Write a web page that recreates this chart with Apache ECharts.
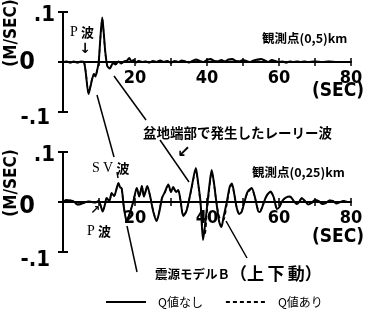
<!DOCTYPE html>
<html><head><meta charset="utf-8">
<script src="https://cdn.jsdelivr.net/npm/echarts@6/dist/echarts.min.js"></script>
<style>html,body{margin:0;padding:0;background:#fff}#c{width:370px;height:312px}</style>
</head><body><div id="c"></div>
<script>
// ---- data (seconds, m/sec) ----
const topTime = [0,1,2,3,4,5,5.8,6.3,7.1,7.6,8.1,8.6,9.0,9.5,9.9,10.4,10.9,11.3,11.75,12.3,13.0,13.9,14.6,15.4,16.2,17,17.8,18.4,19,19.6,20.3,21,22,23,24,25,26,27,28,29,30,31,32,33,34,35,36,37,38,39,40,41,42,43,44,45,46,47,48,49,50,51,52,53,54,55,56,57,58,59,60,61,62,63,64,65,66,67,68,70,72,74,76,78,80];
const topNoQ = [0,0.001,-0.001,0.001,-0.001,0.001,0,-0.02,-0.064,-0.05,-0.034,-0.024,-0.029,-0.016,-0.002,0.05,0.089,0.06,0.02,-0.008,-0.013,-0.002,-0.005,0.001,-0.003,0.001,0.003,0.008,0.001,0.004,-0.001,0.002,0,0.001,-0.001,0.002,0,0.003,0,0.002,-0.001,0.002,0,0.003,0.001,-0.001,0.002,0.005,0.002,0,0.004,0.006,0.002,0.001,0.004,0.001,0.005,0.006,0.002,0.001,0.004,0.002,0,0.003,0.005,0.006,0.003,0,0.004,0.002,0,0.001,-0.001,0.001,0,0.001,0,0.001,0,0.001,0,0.001,0,0,0];
const topQ   = [0,0.001,-0.001,0.001,-0.001,0.001,0,-0.019,-0.061,-0.049,-0.033,-0.024,-0.028,-0.016,-0.002,0.048,0.086,0.058,0.019,-0.008,-0.012,-0.002,-0.004,0.001,-0.002,0.001,0.003,0.007,0.001,0.003,-0.001,0.002,0,0.001,-0.001,0.002,0,0.002,0,0.002,-0.001,0.002,0,0.002,0.001,-0.001,0.002,0.004,0.002,0,0.003,0.005,0.002,0.001,0.003,0.001,0.004,0.005,0.002,0.001,0.003,0.002,0,0.003,0.004,0.005,0.003,0,0.003,0.002,0,0.001,-0.001,0.001,0,0.001,0,0.001,0,0.001,0,0.001,0,0,0];

const botTime = [0,1,2,3,4,5,6,7,8,9,9.9,10.5,11.0,11.7,12.1,12.9,13.5,14.2,15.4,15.8,16.3,16.9,17.7,18.3,19.5,20.5,21.2,21.9,22.5,23.4,24.25,25.1,26.0,26.8,27.5,28.3,29.25,30.0,30.6,31.4,32.0,32.6,33.4,34.2,34.9,35.75,36.9,37.5,38.2,38.9,39.4,40.0,40.7,41.3,41.9,42.6,43.4,44.0,44.6,45.5,46.3,46.9,47.6,48.2,48.9,49.6,50.4,51.25,52.4,53.3,54.2,54.7,55.6,56.5,57.7,58.6,59.4,60.1,60.9,61.9,63.1,63.9,64.9,65.6,66.3,67.2,68.1,69.0,70.0,71,72,73,74,75,76,77,78,79,80];
const botNoQ = [0,0.004,0.003,0.001,-0.005,-0.004,-0.001,0.001,0,-0.001,0.002,-0.008,-0.019,-0.004,0.008,0.002,0.018,0.012,0.038,0.03,0.027,-0.01,-0.039,-0.028,0,0.028,0.011,0.032,0.011,0.032,0.01,-0.02,-0.038,-0.018,0.008,0.02,0.035,0.02,0.03,0.02,0.024,0.005,-0.028,-0.02,0,0.03,0.068,0.04,0,-0.076,-0.05,-0.01,0.035,0.064,0.04,0,-0.04,-0.05,-0.03,0,0.03,0.037,0.015,-0.01,-0.024,-0.02,0,0.02,0.028,0.01,-0.018,-0.02,-0.005,0.012,0.021,0.008,-0.014,-0.01,0.002,0.009,0.011,0.004,-0.004,0,0.008,0.002,-0.005,-0.002,0.004,0.002,-0.004,-0.002,0.003,0.002,-0.003,0,0.002,0,0];
const botQ   = [0,0.004,0.003,0.001,-0.005,-0.004,-0.001,0.001,0,-0.001,0.002,-0.008,-0.018,-0.004,0.008,0.002,0.017,0.012,0.037,0.03,0.026,-0.01,-0.037,-0.027,0,0.027,0.011,0.031,0.011,0.031,0.01,-0.019,-0.036,-0.017,0.008,0.019,0.033,0.02,0.029,0.02,0.023,0.005,-0.026,-0.019,0,0.028,0.064,0.038,-0.005,-0.062,-0.064,-0.02,0.03,0.06,0.038,0,-0.03,-0.034,-0.036,-0.005,0.027,0.034,0.014,-0.009,-0.022,-0.019,0,0.018,0.026,0.009,-0.016,-0.018,-0.005,0.011,0.019,0.007,-0.012,-0.009,0.002,0.008,0.01,0.004,-0.004,0,0.007,0.002,-0.004,-0.002,0.003,0.002,-0.003,-0.002,0.003,0.002,-0.002,0,0.002,0,0];

const xLabelValues = [20, 40, 60, 80];
const yTickLabels = ['.1', '0', '-.1'];
const seriesNames = ['Q値なし', 'Q値あり'];

// ---- chart ----
const chart = echarts.init(document.getElementById('c'), null, {renderer: 'canvas'});
const NUM_FONT = 'DejaVu Sans Condensed';
const JP = 'Noto Sans CJK JP';
const GRID_H = 100;

function pairs(t, v) { return t.map((x, i) => [x, v[i]]); }

// main axes (g = 0,1) and overlay axes (g = 2,3) that only add inward ticks.
// The time axis is moved up by half the grid height so it sits on the zero line.
function xAxis(g, overlay) {
  return {
    gridIndex: g, type: 'value', min: 0, max: 80, interval: 10, position: 'bottom',
    offset: -GRID_H / 2,
    splitLine: {show: false},
    axisLine: {show: !overlay, onZero: false, lineStyle: {color: '#000', width: 2}},
    axisTick: {show: true, inside: !!overlay, length: 4, lineStyle: {color: '#000', width: 1.5}},
    axisLabel: overlay ? {show: false} : {
      show: true, margin: 7, color: '#000', fontSize: 18, fontFamily: NUM_FONT, fontWeight: 'bold',
      formatter: v => xLabelValues.indexOf(v) >= 0 ? String(v) : ''
    }
  };
}
function yAxis(g, overlay, lower) {
  return {
    gridIndex: g, type: 'value', min: -0.1, max: 0.1, interval: 0.1, position: 'left',
    splitLine: {show: false},
    axisLine: {show: !overlay, onZero: false, lineStyle: {color: '#000', width: 2}},
    axisTick: {show: true, inside: !!overlay, length: 5, lineStyle: {color: '#000', width: 2}},
    axisLabel: overlay ? {show: false} : {
      show: true, margin: 8, color: '#000',
      formatter: v => v > 0.05 ? '{a|' + yTickLabels[0] + '}' : (v < -0.05 ? '{c|' + yTickLabels[2] + '}' : '{b|' + yTickLabels[1] + '}'),
      rich: {
        a: {fontSize: 22, fontFamily: NUM_FONT, fontWeight: 'bold', color: '#000', padding: [6, 0, 0, 0]},
        b: {fontSize: 25, fontFamily: NUM_FONT, fontWeight: 'bold', color: '#000', padding: [lower ? 8 : 0, 20, 0, 0]},
        c: {fontSize: 22, fontFamily: NUM_FONT, fontWeight: 'bold', color: '#000', padding: [lower ? 16 : 12, 5, 0, 0]}
      }
    }
  };
}

function lineSeries(name, gi, data, dashed) {
  return {
    name: name, type: 'line', xAxisIndex: gi, yAxisIndex: gi, data: data,
    symbol: 'none', smooth: 0.25, animation: false, z: dashed ? 2 : 3,
    itemStyle: {color: '#000'},
    lineStyle: dashed ? {color: '#000', width: 1.5, type: [4, 3]} : {color: '#000', width: 2}
  };
}

function txt(x, y, text, font, extra) {
  return {type: 'text', x: x, y: y, silent: true,
    style: Object.assign({text: text, font: font, fill: '#000', align: 'left', verticalAlign: 'middle'}, extra || {})};
}
function seg(x1, y1, x2, y2, w) {
  return {type: 'line', silent: true, shape: {x1: x1, y1: y1, x2: x2, y2: y2}, style: {stroke: '#000', lineWidth: w || 1.5}};
}
const richP = {
  s: {fontFamily: 'Liberation Serif', fontSize: 14, fill: '#000'},
  j: {fontFamily: JP, fontSize: 13, fontWeight: 'bold', fill: '#000'}
};

const g0 = {left: 63, top: 12, width: 288, height: GRID_H};
const g1 = {left: 63, top: 152, width: 288, height: GRID_H};

const option = {
  animation: false,
  backgroundColor: '#fff',
  color: ['#000', '#000'],
  grid: [g0, g1, Object.assign({}, g0), Object.assign({}, g1)],
  xAxis: [xAxis(0, false), xAxis(1, false), xAxis(2, true), xAxis(3, true)],
  yAxis: [yAxis(0, false, false), yAxis(1, false, true), yAxis(2, true, false), yAxis(3, true, true)],
  legend: {
    left: 105, top: 296, padding: 0, itemWidth: 40, itemHeight: 10, itemGap: 22,
    data: seriesNames,
    itemStyle: {opacity: 0},
    textStyle: {fontSize: 12, fontFamily: JP, color: '#000', padding: [0, 0, 0, 7]}
  },
  series: [
    lineSeries(seriesNames[1], 0, pairs(topTime, topQ), true),
    lineSeries(seriesNames[0], 0, pairs(topTime, topNoQ), false),
    lineSeries(seriesNames[1], 1, pairs(botTime, botQ), true),
    lineSeries(seriesNames[0], 1, pairs(botTime, botNoQ), false)
  ],
  graphic: [
    {type: 'text', x: 12, y: 33, rotation: Math.PI / 2, silent: true,
      style: {text: '(M/SEC)', font: 'bold 17px "DejaVu Sans Condensed"', fill: '#000', align: 'center', verticalAlign: 'middle'}},
    {type: 'text', x: 12, y: 183, rotation: Math.PI / 2, silent: true,
      style: {text: '(M/SEC)', font: 'bold 17px "DejaVu Sans Condensed"', fill: '#000', align: 'center', verticalAlign: 'middle'}},
    txt(338, 91, '(SEC)', 'bold 19px "DejaVu Sans Condensed"', {align: 'center'}),
    txt(338, 237, '(SEC)', 'bold 19px "DejaVu Sans Condensed"', {align: 'center'}),
    txt(262, 38, '観測点(0,5)km', 'bold 12.5px "Noto Sans CJK JP"'),
    txt(252, 172, '観測点(0,25)km', 'bold 12.5px "Noto Sans CJK JP"'),
    {type: 'text', x: 70, y: 32, silent: true, style: {text: '{s|P} {j|波}', rich: richP, align: 'left', verticalAlign: 'middle'}},
    txt(85, 49, '↓', 'bold 14px "DejaVu Sans"', {align: 'center'}),
    {type: 'text', x: 92, y: 168, silent: true, style: {text: '{s|S} {s|V} {j|波}', rich: richP, align: 'left', verticalAlign: 'middle'}},
    {type: 'text', x: 87, y: 231, silent: true, style: {text: '{s|P} {j|波}', rich: richP, align: 'left', verticalAlign: 'middle'}},
    txt(95, 211, '↗', 'bold 12px "DejaVu Sans"', {align: 'center'}),
    txt(143, 133, '盆地端部で発生したレーリー波', 'bold 13.5px "Noto Sans CJK JP"'),
    txt(184, 153, '↙', 'bold 16px "DejaVu Sans"', {align: 'center'}),
    {type: 'text', x: 155, y: 274, silent: true, style: {
      text: '{a|震源モデルＢ}{b|（上\u2009下\u2009動）}', align: 'left', verticalAlign: 'middle',
      rich: {a: {fontFamily: JP, fontSize: 12.5, fontWeight: 'bold', fill: '#000'},
             b: {fontFamily: JP, fontSize: 17, fontWeight: 'bold', fill: '#000'}}}},
    seg(97, 95, 114, 157),
    seg(117, 172, 118, 178),
    seg(127, 226, 137, 272),
    seg(114, 76, 146, 120),
    seg(160, 140, 189, 182),
    seg(226, 221, 247, 258)
  ]
};
chart.setOption(option);
</script>
</body></html>
